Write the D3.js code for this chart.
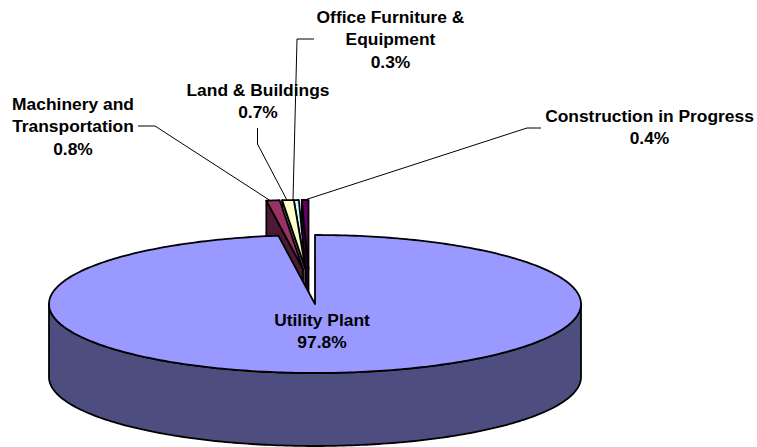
<!DOCTYPE html>
<html><head><meta charset="utf-8">
<script src="https://cdn.jsdelivr.net/npm/d3@7"></script>
<style>html,body{margin:0;padding:0;background:#fff}svg{display:block}text{font-family:"Liberation Sans",Arial,sans-serif;font-weight:700;font-size:17.4px;fill:#000}</style>
</head><body><svg id="c" width="757" height="447"></svg>
<script>
// Data, clockwise from 12 o'clock
const categories = ["Utility Plant","Machinery and Transportation","Land & Buildings","Office Furniture & Equipment","Construction in Progress"];
const shares = [97.8,0.8,0.7,0.3,0.4];
const topColors = ["#9999FF","#993366","#FFFFCC","#CCFFFF","#660066"];
const sideColors = ["#4D4D80","#4D1933","#808066","#668080","#330033"];

// Layout
const cx=315, cy=304, rx=266, ry=69, depth=73;
const explodeX=[0,-12,-9.5,-9.5,-6.5], explodeY=[0,-35,-35,-35,-35];
const labelLines=[["Utility Plant","97.8%"],["Machinery and","Transportation","0.8%"],["Land & Buildings","0.7%"],["Office Furniture &","Equipment","0.3%"],["Construction in Progress","0.4%"]];
const labelX=[322,73,258,390.5,649.5], labelY=[326,110,96,23,122], lineGap=22.3;
const leaderPts=[null,[[138,126],[155,126]],[[257.5,128],[257.5,144]],[[314,39],[297,39]],[[541,128],[527,128]]];
const anchorNudge=[0,-3,-1,-3.3,-0.5];

const svg=d3.select("#c");
const arcs=d3.pie().value((d,i)=>shares[i]).sort(null)(shares);
const px=a=>cx+rx*Math.sin(a), py=a=>cy-ry*Math.cos(a);
const line=d3.line();
const stroke=(s)=>s.attr("stroke","#000").attr("stroke-width",1.8).attr("stroke-linejoin","round");
const arcSamples=(a0,a1)=>d3.range(0,1.0001,1/Math.max(2,Math.ceil(Math.abs(a1-a0)*60))).map(t=>a0+(a1-a0)*t);

function drawSlice(i){
  const a=arcs[i], dx=explodeX[i], dy=explodeY[i];
  const g=svg.append("g").attr("transform",`translate(${dx},${dy})`);
  if(i===0){
    // outer wall: only the front half is visible
    const A0=Math.PI/2, A1=Math.PI*1.5;
    const lo=arcSamples(A0,A1).map(t=>[px(t),py(t)]);
    const hi=lo.slice().reverse().map(p=>[p[0],p[1]+depth]);
    g.append("path").attr("d",line(lo.concat(hi))+"Z").attr("fill",sideColors[i]).call(stroke);
  } else {
    // left cut face, seen through the gap
    const e=a.startAngle;
    const face=[[px(e),py(e)],[cx,cy],[cx,cy+depth],[px(e),py(e)+depth]];
    g.append("path").attr("d",line(face)+"Z").attr("fill",sideColors[i]).call(stroke);
  }
  const top=[[cx,cy]].concat(arcSamples(a.startAngle,a.endAngle).map(t=>[px(t),py(t)]));
  g.append("path").attr("d",line(top)+"Z").attr("fill",topColors[i]).call(stroke);
}
// Painter's order: rightmost small slice first, main slice last
[4,3,2,1,0].forEach(drawSlice);

// Leader lines
leaderPts.forEach((pts,i)=>{
  if(!pts) return;
  const m=(arcs[i].startAngle+arcs[i].endAngle)/2;
  const end=[px(m)+explodeX[i]+anchorNudge[i],py(m)+explodeY[i]];
  svg.append("path").attr("d",line(pts.concat([end]))).attr("fill","none").attr("stroke","#000").attr("stroke-width",1);
});

// Labels
labelLines.forEach((ls,i)=>{
  const t=svg.append("text").attr("text-anchor","middle");
  ls.forEach((s,j)=>t.append("tspan").attr("x",labelX[i]).attr("y",labelY[i]+j*lineGap).text(s));
});
</script></body></html>
